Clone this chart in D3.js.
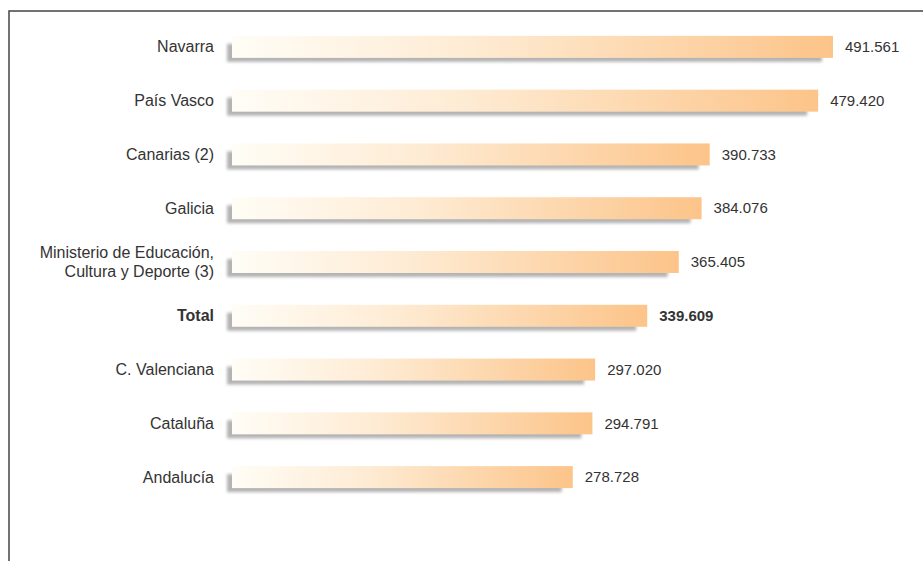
<!DOCTYPE html>
<html>
<head>
<meta charset="utf-8">
<script src="https://cdn.jsdelivr.net/npm/d3@7"></script>
<style>
  body { margin: 0; background: #fff; }
  text { font-family: "Liberation Sans", Arial, sans-serif; }
</style>
</head>
<body>
<svg></svg>
<script>
const width = 923;
const height = 561;

// data
const regions = ["Navarra", "País Vasco", "Canarias (2)", "Galicia",
    "Ministerio de Educación,\nCultura y Deporte (3)", "Total",
    "C. Valenciana", "Cataluña", "Andalucía"];
const values = [491561, 479420, 390733, 384076, 365405, 339609, 297020, 294791, 278728];
const valueLabels = ["491.561", "479.420", "390.733", "384.076", "365.405",
    "339.609", "297.020", "294.791", "278.728"];
const boldRows = ["Total"];

const rows = regions.map((r, i) => ({ region: r, value: values[i], label: valueLabels[i] }));

const svg = d3.select('svg').attr('width', width).attr('height', height);

// frame
svg.append('rect')
    .attr('x', 9).attr('y', 11)
    .attr('width', 960).attr('height', 620)
    .style('fill', 'none')
    .style('stroke', '#444')
    .style('stroke-width', 1.5);

const defs = svg.append('defs');
const grad = defs.append('linearGradient')
    .attr('id', 'barGrad')
    .attr('x1', '0%').attr('x2', '100%')
    .attr('y1', '0%').attr('y2', '0%');
grad.append('stop').attr('offset', '0%').attr('stop-color', '#fffdf6');
grad.append('stop').attr('offset', '40%').attr('stop-color', '#feebd3');
grad.append('stop').attr('offset', '100%').attr('stop-color', '#fcc489');

defs.append('filter').attr('id', 'blur')
    .attr('x', '-5%').attr('y', '-50%').attr('width', '110%').attr('height', '200%')
    .append('feGaussianBlur').attr('stdDeviation', 1.6);

const x = d3.scaleLinear()
    .domain([0, 491561])
    .range([232, 833]);

const y = d3.scaleBand()
    .domain(regions)
    .range([20, 504])
    .paddingInner(0.59)
    .paddingOuter(0.295);

const barH = 22;
const rowY = d => y(d.region) + y.bandwidth() / 2;

const g = svg.append('g');

// shadows
g.selectAll('.shadow')
    .data(rows)
    .enter().append('rect')
    .attr('class', 'shadow')
    .attr('x', x(0) - 5)
    .attr('y', d => rowY(d) - barH / 2 + 8)
    .attr('width', d => x(d.value) - x(0) - 6)
    .attr('height', barH - 4)
    .style('fill', '#b4b4b4')
    .attr('filter', 'url(#blur)');

// bars
g.selectAll('.bar')
    .data(rows)
    .enter().append('rect')
    .attr('class', 'bar')
    .attr('x', x(0))
    .attr('y', d => rowY(d) - barH / 2)
    .attr('width', d => x(d.value) - x(0))
    .attr('height', barH)
    .style('fill', 'url(#barGrad)');

// value labels
g.selectAll('.value')
    .data(rows)
    .enter().append('text')
    .attr('class', 'value')
    .attr('x', d => x(d.value) + 12)
    .attr('y', d => rowY(d))
    .attr('dy', '0.35em')
    .style('font-size', '15px')
    .style('fill', '#333')
    .style('font-weight', d => boldRows.includes(d.region) ? 'bold' : 'normal')
    .text(d => d.label);

// category labels
const labels = g.selectAll('.label')
    .data(rows)
    .enter().append('text')
    .attr('class', 'label')
    .attr('x', 214)
    .attr('y', d => rowY(d))
    .attr('text-anchor', 'end')
    .style('font-size', '16px')
    .style('fill', '#333')
    .style('font-weight', d => boldRows.includes(d.region) ? 'bold' : 'normal');

labels.each(function (d) {
    const lines = d.region.split('\n');
    const t = d3.select(this);
    lines.forEach((line, i) => {
        t.append('tspan')
            .attr('x', 214)
            .attr('dy', i === 0 ? (0.35 - (lines.length - 1) * 0.6) + 'em' : '1.2em')
            .text(line);
    });
});
</script>
</body>
</html>
